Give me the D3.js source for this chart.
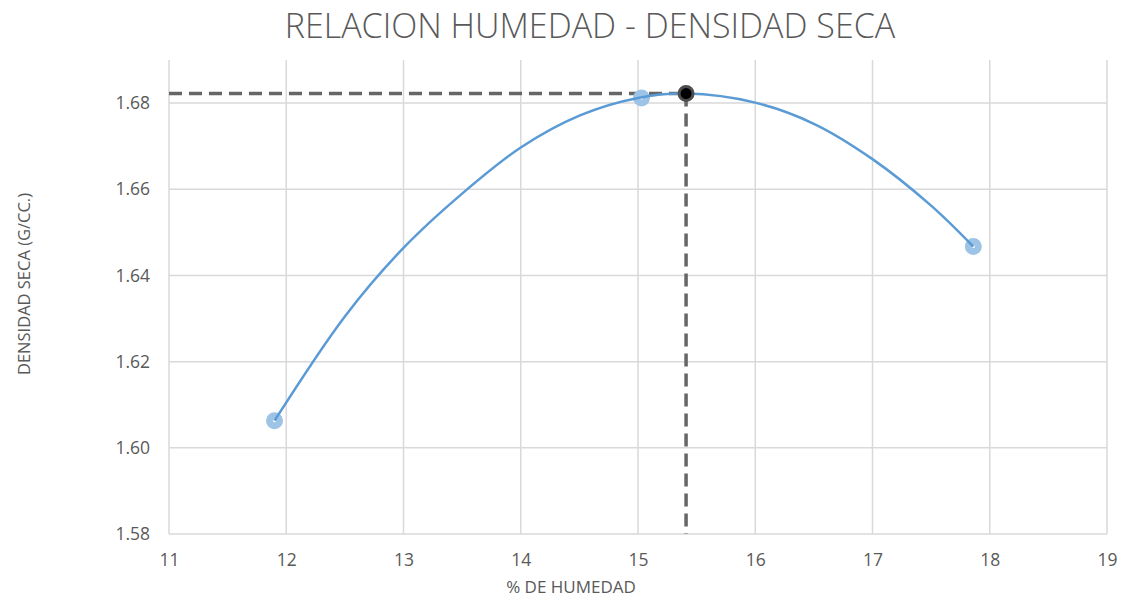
<!DOCTYPE html>
<html>
<head>
<meta charset="utf-8">
<script src="https://cdn.jsdelivr.net/npm/d3@7"></script>
<style>
  body { margin: 0; background: #fff; }
  text { font-family: "Open Sans", "Noto Sans", sans-serif; fill: #595959; }
</style>
</head>
<body>
<div id="chart"></div>
<script>
// Measured points (humidity %, dry density g/cc)
const humedad = [11.9, 15.03, 17.86];
const densidad = [1.6063, 1.6812, 1.6467];

// Optimum (max of the trend curve)
const optimoHumedad = 15.41;
const optimoDensidad = 1.6822;

// Trend curve
const curvaX = [11.9, 12.5, 13, 13.5, 14, 14.5, 15, 15.41, 16, 16.5, 17, 17.5, 17.86];
const curvaY = [1.6063, 1.6305, 1.6464, 1.659, 1.6697, 1.6771, 1.6812, 1.6822, 1.6801, 1.6752, 1.667, 1.6562, 1.6467];

const xTicks = [11, 12, 13, 14, 15, 16, 17, 18, 19];
const yTicks = [1.58, 1.60, 1.62, 1.64, 1.66, 1.68];

const width = 1126, height = 597;
const margin = {top: 60, right: 19, bottom: 63, left: 169};

const svg = d3.select("#chart").append("svg")
    .attr("width", width)
    .attr("height", height);

const x = d3.scaleLinear().domain([11, 19]).range([margin.left, width - margin.right]);
const y = d3.scaleLinear().domain([1.58, 1.69]).range([height - margin.bottom, margin.top]);

// Gridlines
svg.append("g")
    .selectAll("line.v")
    .data(xTicks)
    .join("line")
    .attr("x1", d => x(d)).attr("x2", d => x(d))
    .attr("y1", y(1.58)).attr("y2", y(1.69))
    .attr("stroke", "#d9d9d9").attr("stroke-width", 1.5);

svg.append("g")
    .selectAll("line.h")
    .data(yTicks)
    .join("line")
    .attr("x1", x(11)).attr("x2", x(19))
    .attr("y1", d => y(d)).attr("y2", d => y(d))
    .attr("stroke", "#d9d9d9").attr("stroke-width", 1.5);

// Axes (labels only)
const xAxis = d3.axisBottom(x).tickValues(xTicks).tickSize(0).tickPadding(20).tickFormat(d3.format("d"));
const yAxis = d3.axisLeft(y).tickValues(yTicks).tickSize(0).tickPadding(19).tickFormat(d3.format(".2f"));

const gx = svg.append("g")
    .attr("transform", `translate(0,${y(1.58)})`)
    .call(xAxis);
gx.select(".domain").remove();
gx.selectAll("text").style("font-size", "17.5px").attr("fill", "#595959");

const gy = svg.append("g")
    .attr("transform", `translate(${x(11)},0)`)
    .call(yAxis);
gy.select(".domain").remove();
gy.selectAll("text").style("font-size", "17.5px").attr("fill", "#595959");

// Dashed guides to optimum
svg.append("line")
    .attr("x1", x(11)).attr("x2", x(optimoHumedad))
    .attr("y1", y(optimoDensidad)).attr("y2", y(optimoDensidad))
    .attr("stroke", "#666").attr("stroke-width", 3.5)
    .attr("stroke-dasharray", "13 7");

svg.append("line")
    .attr("x1", x(optimoHumedad)).attr("x2", x(optimoHumedad))
    .attr("y1", y(optimoDensidad)).attr("y2", y(1.58))
    .attr("stroke", "#666").attr("stroke-width", 3.5)
    .attr("stroke-dasharray", "13 7");

// Data markers
svg.append("g")
    .selectAll("circle")
    .data(humedad.map((h, i) => ({h, d: densidad[i]})))
    .join("circle")
    .attr("cx", d => x(d.h))
    .attr("cy", d => y(d.d))
    .attr("r", 5)
    .attr("fill", "#fff")
    .attr("stroke", "#9dc3e6")
    .attr("stroke-width", 7);

// Trend curve
const line = d3.line()
    .x(d => x(d[0]))
    .y(d => y(d[1]))
    .curve(d3.curveCatmullRom);

svg.append("path")
    .datum(curvaX.map((v, i) => [v, curvaY[i]]))
    .attr("fill", "none")
    .attr("stroke", "#5b9bd5")
    .attr("stroke-width", 2.5)
    .attr("d", line);

// Optimum marker
svg.append("circle")
    .attr("cx", x(optimoHumedad))
    .attr("cy", y(optimoDensidad))
    .attr("r", 7)
    .attr("fill", "#000")
    .attr("stroke", "#4d4d4d")
    .attr("stroke-width", 3);

// Title
svg.append("text")
    .attr("x", 590).attr("y", 38)
    .attr("text-anchor", "middle")
    .style("font-size", "34px")
    .style("font-weight", 300)
    .text("RELACION HUMEDAD - DENSIDAD SECA");

// Axis titles
svg.append("text")
    .attr("x", 571).attr("y", 593)
    .attr("text-anchor", "middle")
    .style("font-size", "17px")
    .text("% DE HUMEDAD");

svg.append("text")
    .attr("transform", "translate(30,284) rotate(-90)")
    .attr("text-anchor", "middle")
    .style("font-size", "16.5px")
    .text("DENSIDAD SECA (G/CC.)");
</script>
</body>
</html>
